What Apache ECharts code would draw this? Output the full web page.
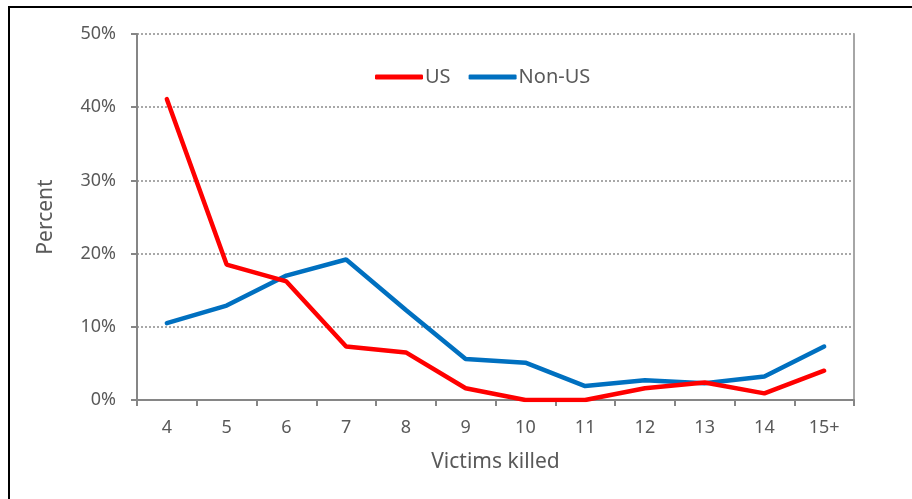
<!DOCTYPE html>
<html>
<head>
<meta charset="utf-8">
<script src="https://cdn.jsdelivr.net/npm/echarts@6/dist/echarts.min.js"></script>
<style>
  html, body { margin: 0; padding: 0; background: #fff; }
  #main { width: 912px; height: 499px; }
</style>
</head>
<body>
<div id="main"></div>
<script>
// data
var categories = ['4', '5', '6', '7', '8', '9', '10', '11', '12', '13', '14', '15+'];
var usValues = [41.1, 18.5, 16.2, 7.3, 6.5, 1.6, 0, 0, 1.6, 2.4, 0.9, 4.0];
var nonUsValues = [10.5, 12.9, 17.0, 19.2, 12.3, 5.6, 5.1, 1.9, 2.7, 2.3, 3.2, 7.3];
var yTicks = [0, 10, 20, 30, 40, 50];

var txt = '#595959';
var font = 'Noto Sans';

var chart = echarts.init(document.getElementById('main'));

var option = {
  animation: false,
  textStyle: { fontFamily: font },
  // frame of the picture (top and left edge only)
  graphic: [
    { type: 'line', shape: { x1: 8, y1: 7, x2: 912, y2: 7 }, style: { stroke: '#000', lineWidth: 2 } },
    { type: 'line', shape: { x1: 9, y1: 7, x2: 9, y2: 499 }, style: { stroke: '#000', lineWidth: 2 } }
  ],
  legend: {
    top: 62,
    left: 370,
    itemWidth: 48,
    itemHeight: 5,
    itemGap: 18,
    icon: 'roundRect',
    textStyle: { color: txt, fontSize: 20, fontFamily: font, padding: [0, 0, 0, -3] },
    data: ['US', 'Non-US']
  },
  grid: { left: 137, right: 58, top: 34, bottom: 99 },
  xAxis: {
    type: 'category',
    data: categories,
    boundaryGap: true,
    name: 'Victims killed',
    nameLocation: 'middle',
    nameGap: 52,
    nameTextStyle: { color: txt, fontSize: 21, fontFamily: font },
    axisLine: { lineStyle: { color: '#868686', width: 2 } },
    axisTick: { show: true, length: 6, interval: 0, lineStyle: { color: '#868686', width: 2 } },
    axisLabel: { color: txt, fontSize: 18, margin: 19, fontFamily: font }
  },
  yAxis: [
    {
      type: 'value',
      min: yTicks[0],
      max: yTicks[yTicks.length - 1],
      interval: 10,
      name: 'Percent',
      nameLocation: 'middle',
      nameGap: 80,
      nameTextStyle: { color: txt, fontSize: 21, fontFamily: font },
      axisLine: { show: true, lineStyle: { color: '#868686', width: 2 } },
      axisTick: { show: true, length: 6, lineStyle: { color: '#868686', width: 2 } },
      axisLabel: { color: txt, fontSize: 18, margin: 21, fontFamily: font, formatter: '{value}%' },
      splitLine: { show: true, lineStyle: { color: '#8c8c8c', type: [2, 2], width: 1.5 } }
    },
    {
      type: 'value',
      min: 0,
      max: 50,
      interval: 10,
      position: 'right',
      axisLine: { show: true, lineStyle: { color: '#a6a6a6', width: 2 } },
      axisTick: { show: false },
      axisLabel: { show: false },
      splitLine: { show: false }
    }
  ],
  series: [
    {
      name: 'US',
      type: 'line',
      data: usValues,
      symbol: 'none',
      color: '#ff0000',
      lineStyle: { width: 4.5, color: '#ff0000', cap: 'round' },
      z: 3
    },
    {
      name: 'Non-US',
      type: 'line',
      data: nonUsValues,
      symbol: 'none',
      color: '#0070c0',
      lineStyle: { width: 4.5, color: '#0070c0', cap: 'round' },
      z: 2
    }
  ]
};

chart.setOption(option);
</script>
</body>
</html>
